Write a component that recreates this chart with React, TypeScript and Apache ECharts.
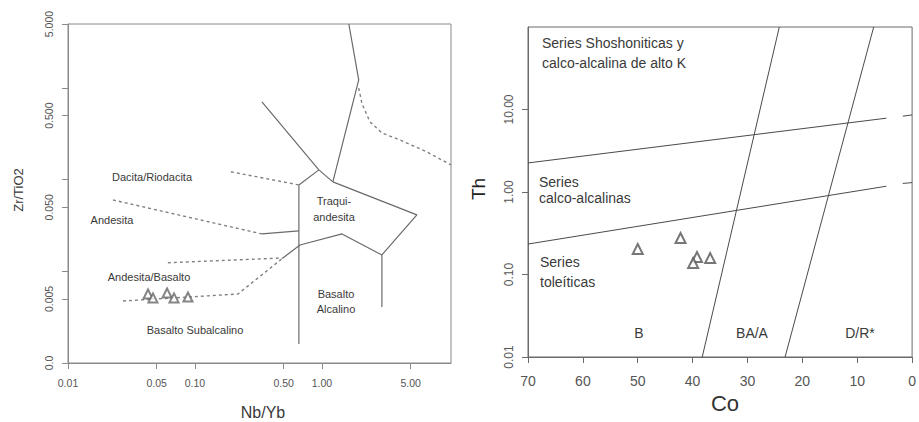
import React, { useEffect, useRef } from 'react';
import * as echarts from 'echarts';

// ---------- Left panel: Zr/TiO2 vs Nb/Yb (log-log) ----------
const nbybTicks = [0.01, 0.05, 0.1, 0.5, 1, 5];
const nbybTickLabels = ['0.01', '0.05', '0.10', '0.50', '1.00', '5.00'];
const zrTiTicks = [0.001, 0.005, 0.01, 0.05, 0.1, 0.5, 1, 5];
const zrTiLabeled = [0.001, 0.005, 0.05, 0.5, 5];
const zrTiTickLabels = ['0.0', '0.005', '0.050', '0.500', '5.000'];
const nbybMin = 0.01;
const nbybMax = 10.4;
const zrTiMin = 0.001;
const zrTiMax = 5;

const leftSamplesNbYb = [0.0427, 0.0467, 0.0603, 0.0684, 0.0881];
const leftSamplesZrTi = [0.00566, 0.00513, 0.00581, 0.00513, 0.00525];

// field boundaries [Nb/Yb, Zr/TiO2]
const solidA = [[1.63, 5.0], [1.95, 1.23], [1.22, 0.0946]];
const solidB = [[1.22, 0.0946], [5.6, 0.0413], [2.97, 0.0151], [2.97, 0.00408]];
const solidC = [[0.337, 0.706], [0.946, 0.128], [1.22, 0.0946]];
const solidD = [[0.946, 0.128], [0.659, 0.0877], [0.659, 0.00161]];
const solidE = [[0.337, 0.0256], [0.659, 0.0276]];
const solidF = [[0.493, 0.014], [0.672, 0.0194], [1.44, 0.0256], [2.97, 0.0151]];
const dashedG = [[0.192, 0.122], [0.659, 0.0877]];
const dashedH = [[0.0226, 0.0601], [0.337, 0.0256]];
const dashedI = [[0.0612, 0.0124], [0.493, 0.014]];
const dashedJ = [[0.0271, 0.00475], [0.218, 0.00566], [0.493, 0.014]];
const dashedK = [[1.95, 1.0], [2.07, 0.673], [2.39, 0.428], [2.97, 0.324], [4.11, 0.272], [6.71, 0.201], [10.4, 0.145]];

// ---------- Right panel: Th vs Co ----------
const coMin = 0;
const coMax = 70;
const coInterval = 10;
const thTicks = [0.01, 0.1, 1, 10];
const thTickLabels = ['0.01', '0.10', '1.00', '10.00'];
const thMin = 0.01;
const thMax = 100;

const rightSamplesCo = [50.0, 42.2, 39.2, 39.9, 36.8];
const rightSamplesTh = [0.204, 0.277, 0.163, 0.138, 0.158];

// boundaries [Co, Th]
const upperLineA = [[70, 2.25], [4.7, 7.85]];
const upperLineB = [[1.7, 8.3], [0, 8.6]];
const lowerLineA = [[70, 0.234], [4.7, 1.175]];
const lowerLineB = [[1.7, 1.27], [0, 1.3]];
const steepLine1 = [[24.2, 100], [38.25, 0.01]];
const steepLine2 = [[7.0, 100], [23.15, 0.01]];

const L = Math.log10;
const toLogBoth = (pts: number[][]) => pts.map(([x, y]) => [L(x), L(y)]);
const toLogY = (pts: number[][]) => pts.map(([x, y]) => [x, L(y)]);
const near = (a: number, b: number) => Math.abs(a - b) < 1e-6;

const FONT = '"Liberation Sans", Arial, sans-serif';
const leftLineColor = '#6a6a6a';
const rightLineColor = '#4a4a4a';

export default function App() {
  const ref = useRef<HTMLDivElement>(null);
  useEffect(() => {
    if (!ref.current) return;
    const chart = echarts.init(ref.current, undefined, { renderer: 'svg' });

    const leftLine = (pts: number[][], dashed: boolean) => ({
      type: 'line',
      xAxisIndex: 0,
      yAxisIndex: 0,
      data: toLogBoth(pts),
      showSymbol: false,
      silent: true,
      lineStyle: { color: dashed ? '#808080' : leftLineColor, width: dashed ? 1.4 : 1.2, type: dashed ? [3, 3] : 'solid' },
    });
    const rightLine = (pts: number[][]) => ({
      type: 'line',
      xAxisIndex: 1,
      yAxisIndex: 1,
      data: toLogY(pts),
      showSymbol: false,
      silent: true,
      lineStyle: { color: rightLineColor, width: 1 },
    });

    const txt = (text: string, x: number, y: number, size: number, extra: any = {}) => ({
      type: 'text',
      x,
      y,
      silent: true,
      style: {
        text,
        font: `${size}px ${FONT}`,
        fill: extra.fill || '#3a3a3a',
        align: extra.align || 'center',
        verticalAlign: 'middle',
      },
      rotation: extra.rotation || 0,
    });

    const option: any = {
      animation: false,
      backgroundColor: '#ffffff',
      grid: [
        { left: 68, top: 24, width: 383, height: 339, show: true, borderColor: '#8a8a8a', borderWidth: 1 },
        { left: 528, top: 27, width: 388, height: 330, show: true, borderColor: '#6a6a6a', borderWidth: 1 },
      ],
      xAxis: [
        {
          type: 'value',
          gridIndex: 0,
          min: L(nbybMin),
          max: L(nbybMax),
          splitLine: { show: false },
          axisLine: { show: true, onZero: false, lineStyle: { color: '#8a8a8a' } },
          axisTick: { show: true, length: 6, lineStyle: { color: '#8a8a8a' }, customValues: nbybTicks.map(L) },
          axisLabel: {
            customValues: nbybTicks.map(L),
            formatter: (v: number) => {
              const i = nbybTicks.findIndex((t) => near(L(t), v));
              return i >= 0 ? nbybTickLabels[i] : '';
            },
            fontFamily: FONT,
            fontSize: 10.5,
            color: '#555',
            margin: 14,
          },
        },
        {
          type: 'value',
          gridIndex: 1,
          min: coMin,
          max: coMax,
          interval: coInterval,
          inverse: true,
          splitLine: { show: false },
          axisLine: { show: true, onZero: false, lineStyle: { color: '#6a6a6a' } },
          axisTick: { show: true, length: 6, lineStyle: { color: '#6a6a6a' } },
          axisLabel: { fontFamily: FONT, fontSize: 14, color: '#555', margin: 17 },
        },
      ],
      yAxis: [
        {
          type: 'value',
          gridIndex: 0,
          min: L(zrTiMin),
          max: L(zrTiMax),
          splitLine: { show: false },
          axisLine: { show: true, onZero: false, lineStyle: { color: '#8a8a8a' } },
          axisTick: { show: true, length: 6, lineStyle: { color: '#8a8a8a' }, customValues: zrTiTicks.map(L) },
          axisLabel: {
            customValues: zrTiLabeled.map(L),
            formatter: (v: number) => {
              const i = zrTiLabeled.findIndex((t) => near(L(t), v));
              return i >= 0 ? zrTiTickLabels[i] : '';
            },
            rotate: 90,
            fontFamily: FONT,
            fontSize: 10.5,
            color: '#555',
            margin: 14,
          },
        },
        {
          type: 'value',
          gridIndex: 1,
          min: L(thMin),
          max: L(thMax),
          splitLine: { show: false },
          axisLine: { show: true, onZero: false, lineStyle: { color: '#6a6a6a' } },
          axisTick: { show: true, length: 6, lineStyle: { color: '#6a6a6a' }, customValues: thTicks.map(L) },
          axisLabel: {
            customValues: thTicks.map(L),
            formatter: (v: number) => {
              const i = thTicks.findIndex((t) => near(L(t), v));
              return i >= 0 ? thTickLabels[i] : '';
            },
            rotate: 90,
            fontFamily: FONT,
            fontSize: 12,
            color: '#555',
            margin: 13,
          },
        },
      ],
      series: [
        leftLine(solidA, false),
        leftLine(solidB, false),
        leftLine(solidC, false),
        leftLine(solidD, false),
        leftLine(solidE, false),
        leftLine(solidF, false),
        leftLine(dashedG, true),
        leftLine(dashedH, true),
        leftLine(dashedI, true),
        leftLine(dashedJ, true),
        leftLine(dashedK, true),
        {
          type: 'scatter',
          xAxisIndex: 0,
          yAxisIndex: 0,
          data: leftSamplesNbYb.map((x, i) => [L(x), L(leftSamplesZrTi[i])]),
          symbol: 'emptyTriangle',
          symbolSize: 9,
          itemStyle: { color: '#666', borderWidth: 1 },
          z: 5,
        },
        rightLine(upperLineA),
        rightLine(upperLineB),
        rightLine(lowerLineA),
        rightLine(lowerLineB),
        rightLine(steepLine1),
        rightLine(steepLine2),
        {
          type: 'scatter',
          xAxisIndex: 1,
          yAxisIndex: 1,
          data: rightSamplesCo.map((x, i) => [x, L(rightSamplesTh[i])]),
          symbol: 'emptyTriangle',
          symbolSize: 10,
          itemStyle: { color: '#555', borderWidth: 1 },
          z: 5,
        },
      ],
      graphic: [
        // left panel texts
        txt('Dacita/Riodacita', 152, 177, 11),
        txt('Andesita', 112, 220, 11),
        txt('Traqui-', 334, 201, 11),
        txt('andesita', 334, 217, 11),
        txt('Andesita/Basalto', 149, 277, 11),
        txt('Basalto Subalcalino', 195, 330, 11),
        txt('Basalto', 336, 294, 11),
        txt('Alcalino', 336, 309, 11),
        txt('Zr/TiO2', 18, 190, 13, { rotation: Math.PI / 2 }),
        txt('Nb/Yb', 263, 412, 16),
        // right panel texts
        txt('Series Shoshoniticas y', 542, 43, 14, { align: 'left' }),
        txt('calco-alcalina de alto K', 542, 63, 14, { align: 'left' }),
        txt('Series', 539, 182, 14, { align: 'left' }),
        txt('calco-alcalinas', 539, 198, 14, { align: 'left' }),
        txt('Series', 540, 262, 14, { align: 'left' }),
        txt('toleíticas', 540, 282, 14, { align: 'left' }),
        txt('B', 639, 333, 14),
        txt('BA/A', 752, 333, 14),
        txt('D/R*', 860, 333, 14),
        txt('Th', 478, 189, 19, { rotation: Math.PI / 2, fill: '#222' }),
        txt('Co', 725, 403, 22, { fill: '#333' }),
      ],
    };
    chart.setOption(option);
    return () => chart.dispose();
  }, []);
  return <div ref={ref} style={{ position: 'fixed', left: 0, top: 0, width: 919, height: 422, background: '#fff' }} />;
}
